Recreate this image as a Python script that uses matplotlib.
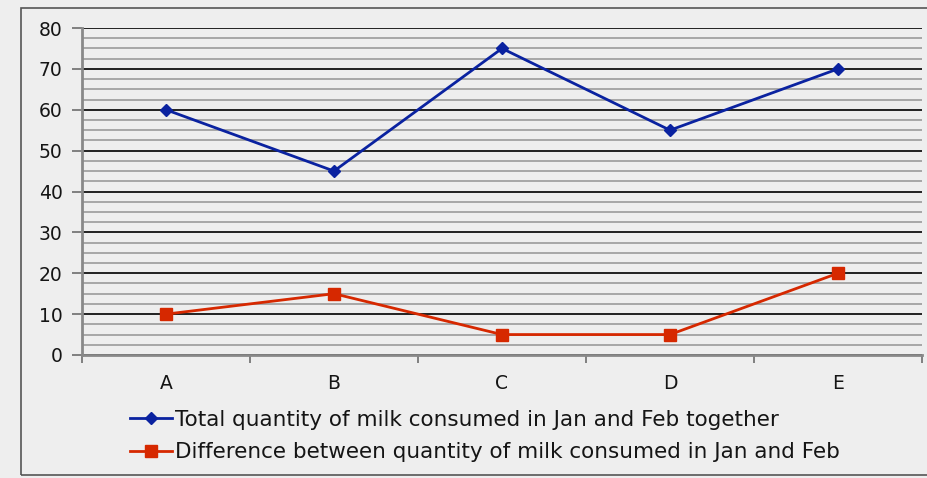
import matplotlib
matplotlib.use("Agg")
import matplotlib.pyplot as plt
from matplotlib.patches import Rectangle
from matplotlib.ticker import MultipleLocator

plt.rcParams['font.family'] = ['DejaVu Sans']
plt.rcParams['text.color'] = "#151515"

categories = ["A", "B", "C", "D", "E"]
total_jan_feb = [60, 45, 75, 55, 70]
diff_jan_feb = [10, 15, 5, 5, 20]
y_ticks = [0, 10, 20, 30, 40, 50, 60, 70, 80]
total_label = "Total quantity of milk consumed in Jan and Feb together"
diff_label = "Difference between quantity of milk consumed in Jan and Feb"

bg = "#eeeeee"
fig = plt.figure(figsize=(9.28, 4.78), dpi=100, facecolor=bg)

# outer frame around the chart
fig.patches.append(Rectangle((21 / 928, 3 / 478), 1.0, (470 - 3) / 478,
                             transform=fig.transFigure, fill=False,
                             edgecolor="#555555", linewidth=1.2))

ax = fig.add_axes([82 / 928, (478 - 355) / 478, 840 / 928, 327 / 478])
ax.set_facecolor(bg)

x = list(range(len(categories)))
ax.plot(x, total_jan_feb, color="#0a22a0", linewidth=2, marker="D",
        markersize=6, label=total_label, zorder=5)
ax.plot(x, diff_jan_feb, color="#d62800", linewidth=2, marker="s",
        markersize=8, label=diff_label, zorder=5)

ax.set_xlim(-0.5, len(categories) - 0.5)
ax.set_ylim(0, 80)

tick_size = 13.5

ax.set_yticks(y_ticks)
ax.set_yticklabels([str(v) for v in y_ticks], fontsize=tick_size)
ax.yaxis.set_minor_locator(MultipleLocator(2.5))
ax.grid(axis="y", which="major", color="#111111", linewidth=1.3, zorder=1)
ax.grid(axis="y", which="minor", color="#9a9a9a", linewidth=1.2, zorder=1)
ax.tick_params(axis="y", which="minor", length=0)
ax.tick_params(axis="y", which="major", length=7, width=1.3, color="#777777",
               labelcolor="#151515", pad=7)

ax.set_xticks(x)
ax.set_xticklabels(categories, fontsize=tick_size)
ax.set_xticks([i - 0.5 for i in range(len(categories) + 1)], minor=True)
ax.tick_params(axis="x", which="major", length=0, labelcolor="#151515", pad=14)
ax.tick_params(axis="x", which="minor", length=6, width=1.3, color="#777777")

for side in ["top", "right"]:
    ax.spines[side].set_visible(False)
ax.spines["left"].set_color("#888888")
ax.spines["left"].set_linewidth(2)
ax.spines["bottom"].set_color("#888888")
ax.spines["bottom"].set_linewidth(2)

ax.legend(loc="upper left", bbox_to_anchor=(130 / 928, (478 - 410) / 478),
          bbox_transform=fig.transFigure, frameon=False,
          prop=dict(size=15.5),
          handlelength=1.95, handletextpad=0.12, labelspacing=0.58,
          borderaxespad=0, borderpad=0)

fig.savefig("out.png", dpi=100, facecolor=bg)
